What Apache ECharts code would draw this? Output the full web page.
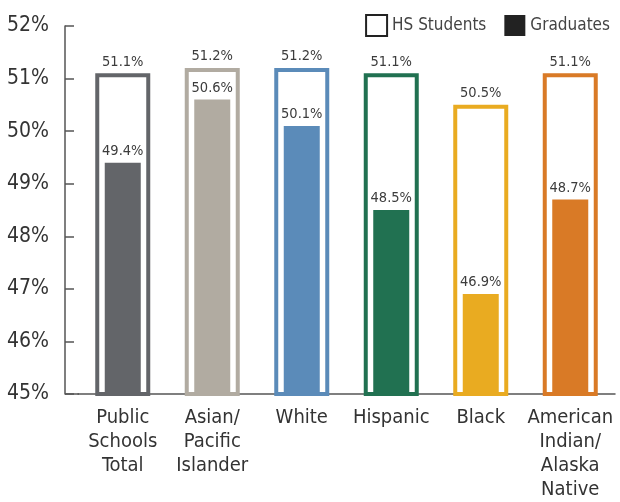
<!DOCTYPE html>
<html><head><meta charset="utf-8">
<script src="https://cdn.jsdelivr.net/npm/echarts@6/dist/echarts.min.js"></script>
<style>html,body{margin:0;padding:0;background:#fff}#c{width:620px;height:502px}</style>
</head><body><div id="c"></div>
<script>
const categories = ['Public\nSchools\nTotal', 'Asian/\nPacific\nIslander', 'White', 'Hispanic', 'Black', 'American\nIndian/\nAlaska\nNative'];
const hsStudents = [51.1, 51.2, 51.2, 51.1, 50.5, 51.1];
const graduates = [49.4, 50.6, 50.1, 48.5, 46.9, 48.7];
const colors = ['#636569', '#b1aba1', '#5b8bb9', '#217151', '#e9ab21', '#d97a26'];
const yTicks = [45, 46, 47, 48, 49, 50, 51, 52];

const FONT = "'Liberation Sans Narrow', 'DejaVu Sans Condensed', 'Roboto Condensed', sans-serif";
const chart = echarts.init(document.getElementById('c'));
const labelStyle = {show: true, position: 'top', distance: 4, fontFamily: FONT, fontSize: 14.5, color: '#3c3c3c', formatter: p => p.value.toFixed(1) + '%'};

chart.setOption({
  animation: false,
  textStyle: {fontFamily: FONT},
  legend: {
    right: 5, top: 9, itemWidth: 21, itemHeight: 21, itemGap: 18,
    textStyle: {fontFamily: FONT, fontSize: 17, color: '#444'},
    data: [
      {name: 'HS Students', icon: 'rect', itemStyle: {color: '#fff', borderColor: '#222', borderWidth: 2}},
      {name: 'Graduates', icon: 'rect', itemStyle: {color: '#222', borderWidth: 0}}
    ]
  },
  grid: {left: 78, right: 5, top: 26, bottom: 105},
  xAxis: [
    {type: 'category', data: categories,
     axisLine: {lineStyle: {color: '#555', width: 1.5}}, axisTick: {show: false},
     axisLabel: {fontFamily: FONT, fontSize: 20, lineHeight: 24, color: '#333', margin: 12, interval: 0}},
    {type: 'category', data: categories, show: false}
  ],
  yAxis: {
    type: 'value', min: yTicks[0], max: yTicks[yTicks.length - 1], interval: 1, offset: 13,
    axisLine: {show: true, lineStyle: {color: '#555', width: 1.5}},
    axisTick: {show: true, inside: true, length: 9, lineStyle: {color: '#555', width: 1.5}},
    splitLine: {show: false},
    axisLabel: {fontFamily: FONT, fontSize: 21, color: '#333', margin: 16, formatter: v => v + '%'}
  },
  series: [
    {name: 'HS Students', type: 'bar', xAxisIndex: 0, barWidth: 55,
     data: hsStudents.map((v, i) => ({value: v, itemStyle: {color: '#fff', borderColor: colors[i], borderWidth: 4}})),
     label: labelStyle, z: 2},
    {name: 'Graduates', type: 'bar', xAxisIndex: 1, barWidth: 36,
     data: graduates.map((v, i) => ({value: v, itemStyle: {color: colors[i]}})),
     label: labelStyle, z: 3}
  ]
});
const yb = chart.convertToPixel({yAxisIndex: 0}, yTicks[0]);
chart.setOption({graphic: [{type: 'line', shape: {x1: 65, y1: yb, x2: 79, y2: yb}, style: {stroke: '#555', lineWidth: 1.5}}]});
</script></body></html>
